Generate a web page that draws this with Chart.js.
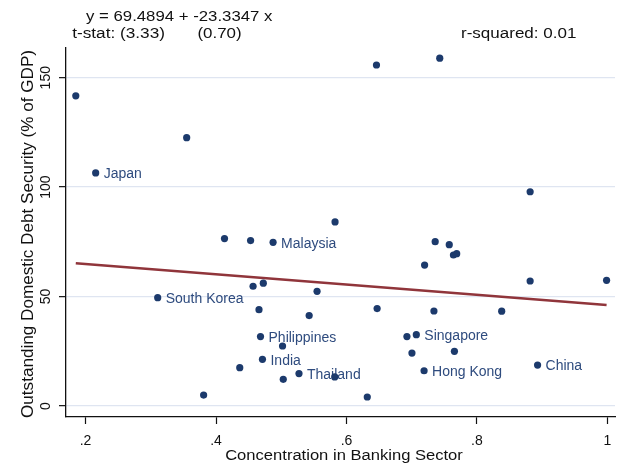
<!DOCTYPE html>
<html>
<head>
<meta charset="utf-8">
<script src="https://cdn.jsdelivr.net/npm/chart.js@4"></script>
<style>
  html, body { margin: 0; padding: 0; background: #fff; }
  #wrap { width: 619px; height: 469px; }
</style>
</head>
<body>
<div id="wrap"><canvas id="c" width="619" height="469"></canvas></div>
<script>
// ---- data ----
const xValues = [0.185, 0.355, 0.646, 0.743, 0.2155, 0.413, 0.453, 0.4875, 0.5825, 0.736,
  0.7576, 0.764, 0.769, 0.7198, 0.8816, 0.8816, 0.9988, 0.3106, 0.4568, 0.4725,
  0.5549, 0.4659, 0.5428, 0.647, 0.7341, 0.838, 0.4682, 0.502, 0.4712, 0.4364,
  0.5272, 0.5031, 0.582, 0.381, 0.6319, 0.6927, 0.7071, 0.7004, 0.7655, 0.719, 0.893];
const yValues = [141.7, 122.6, 155.8, 158.9, 106.5, 76.5, 75.6, 74.8, 84.1, 75.1,
  73.7, 69.0, 69.6, 64.4, 97.9, 57.1, 57.4, 49.5, 54.7, 56.1,
  52.4, 44.0, 41.3, 44.5, 43.4, 43.3, 31.7, 27.4, 21.3, 17.5,
  14.8, 12.2, 13.3, 5.0, 4.1, 31.7, 32.6, 24.2, 25.0, 16.1, 18.7];
const pointLabels = ['', '', '', '', 'Japan', '', '', 'Malaysia', '', '',
  '', '', '', '', '', '', '', 'South Korea', '', '',
  '', '', '', '', '', '', 'Philippines', '', 'India', '',
  'Thailand', '', '', '', '', '', 'Singapore', '', '', 'Hong Kong', 'China'];
const xTicks = [0.2, 0.4, 0.6, 0.8, 1.0];
const xTickLabels = ['.2', '.4', '.6', '.8', '1'];
const yTicks = [0, 50, 100, 150];
const yTickLabels = ['0', '50', '100', '150'];
const intercept = 69.4894;
const slope = -23.3347;
const equationText = 'y = 69.4894 + -23.3347 x';
const tstatText = 't-stat: (3.33)';
const tstatSlopeText = '(0.70)';
const rsqText = 'r-squared: 0.01';
const xTitle = 'Concentration in Banking Sector';
const yTitle = 'Outstanding Domestic Debt Security (% of GDP)';

// ---- derived ----
const scatterData = xValues.map((x, i) => ({ x: x, y: yValues[i] }));
const xMin = Math.min(...xValues), xMax = Math.max(...xValues);
const fitData = [{ x: xMin, y: intercept + slope * xMin }, { x: xMax, y: intercept + slope * xMax }];

const NAVY = '#1c3a6c';
const LABEL = '#2e4b7e';
const FONT = '"Liberation Sans", Arial, Helvetica, sans-serif';

function fitText(ctx, text, x, y, size, targetW, align) {
  ctx.save();
  ctx.font = size + 'px ' + FONT;
  const w = ctx.measureText(text).width;
  const s = targetW ? targetW / w : 1;
  ctx.translate(x, y);
  ctx.scale(s, 1);
  ctx.textAlign = 'left';
  ctx.textBaseline = 'alphabetic';
  const dx = align === 'center' ? -w / 2 : 0;
  ctx.fillText(text, dx, 0);
  ctx.restore();
}

const textPlugin = {
  id: 'textPlugin',
  beforeDatasetsDraw(chart) {
    const ctx = chart.ctx;
    const xs = chart.scales.x, ys = chart.scales.y;
    ctx.save();
    ctx.fillStyle = LABEL;
    ctx.font = '14px ' + FONT;
    ctx.textBaseline = 'middle';
    ctx.textAlign = 'left';
    pointLabels.forEach((lab, i) => {
      if (!lab) return;
      const px = xs.getPixelForValue(xValues[i]);
      const py = ys.getPixelForValue(yValues[i]);
      ctx.fillText(lab, px + 8, py + 1.5);
    });
    ctx.restore();
  },
  afterDraw(chart) {
    const ctx = chart.ctx;
    const xs = chart.scales.x, ys = chart.scales.y;
    ctx.save();
    ctx.fillStyle = '#111';
    // header text
    fitText(ctx, equationText, 86, 20.7, 14, 186.4, 'left');
    fitText(ctx, tstatText, 72.2, 38, 14, 92.8, 'left');
    fitText(ctx, tstatSlopeText, 197.4, 38, 14, 44.2, 'left');
    fitText(ctx, rsqText, 461, 38, 14, 115.4, 'left');
    // x tick labels
    ctx.font = '14px ' + FONT;
    ctx.textAlign = 'center';
    ctx.textBaseline = 'alphabetic';
    xTicks.forEach((v, i) => {
      ctx.fillText(xTickLabels[i], xs.getPixelForValue(v), 444.5);
    });
    // y tick labels (rotated)
    yTicks.forEach((v, i) => {
      ctx.save();
      ctx.translate(50, ys.getPixelForValue(v));
      ctx.rotate(-Math.PI / 2);
      ctx.textAlign = 'center';
      ctx.fillText(yTickLabels[i], 0, 0);
      ctx.restore();
    });
    // x title
    fitText(ctx, xTitle, 344, 460, 15.5, 237.7, 'center');
    // y title (rotated)
    ctx.save();
    ctx.translate(33.3, 234);
    ctx.rotate(-Math.PI / 2);
    fitText(ctx, yTitle, 0, 0, 16, 368, 'center');
    ctx.restore();
    ctx.restore();
  }
};

new Chart(document.getElementById('c'), {
  type: 'scatter',
  data: {
    datasets: [
      {
        type: 'line',
        data: fitData,
        borderColor: '#90353b',
        borderWidth: 2.5,
        pointRadius: 0,
        fill: false,
        order: 2
      },
      {
        data: scatterData,
        backgroundColor: NAVY,
        borderColor: NAVY,
        borderWidth: 0,
        pointRadius: 3.6,
        order: 1
      }
    ]
  },
  options: {
    responsive: false,
    animation: false,
    devicePixelRatio: 1,
    layout: { padding: { top: 48, left: 0, right: 0, bottom: 0 } },
    plugins: { legend: { display: false }, tooltip: { enabled: false } },
    scales: {
      x: {
        type: 'linear',
        min: 0.17,
        max: 1.0117,
        afterBuildTicks: s => { s.ticks = xTicks.map(v => ({ value: v })); },
        afterFit: s => { s.height = 52; },
        ticks: { display: false },
        grid: { drawOnChartArea: false, drawTicks: true, tickLength: 7, tickColor: '#111', tickWidth: 1.2 },
        border: { display: true, color: '#111', width: 1.3 }
      },
      y: {
        type: 'linear',
        min: -5.03,
        max: 163.57,
        afterBuildTicks: s => { s.ticks = yTicks.map(v => ({ value: v })); },
        afterFit: s => { s.width = 66; },
        ticks: { display: false },
        grid: { drawOnChartArea: true, color: '#dfe5f1', lineWidth: 1.3, drawTicks: true, tickLength: 7, tickColor: '#111', tickWidth: 1.2 },
        border: { display: true, color: '#111', width: 1.3 }
      }
    }
  },
  plugins: [textPlugin]
});
</script>
</body>
</html>
